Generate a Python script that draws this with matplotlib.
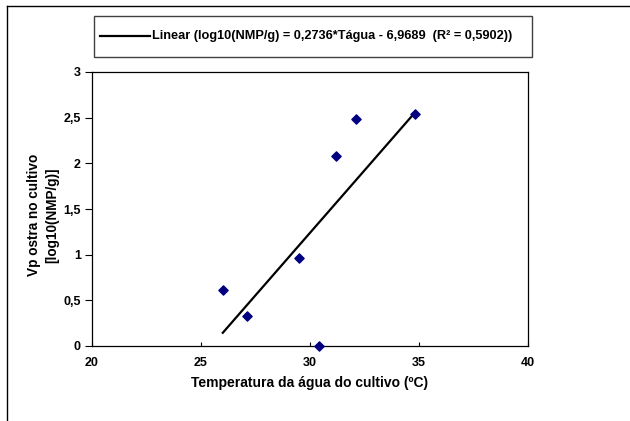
import matplotlib.pyplot as plt
import numpy as np

plt.rcParams["font.family"] = ["Liberation Sans", "DejaVu Sans"]
plt.rcParams["font.weight"] = "bold"

# data
temp_agua = [26.0, 27.1, 29.5, 30.4, 31.2, 32.1, 34.8]
vp_log = [0.61, 0.33, 0.96, 0.0, 2.08, 2.49, 2.54]
slope = 0.2736
intercept = -6.9689
x_ticks = [20, 25, 30, 35, 40]
y_ticks = [0, 0.5, 1, 1.5, 2, 2.5, 3]
y_labels = ["0", "0,5", "1", "1,5", "2", "2,5", "3"]
legend_text = "Linear (log10(NMP/g) = 0,2736*Tágua - 6,9689  (R² = 0,5902))"

W, H = 630, 421
fig = plt.figure(figsize=(W / 100, H / 100), dpi=100)

# outer chart border (only left and top are visible)
fig.add_artist(plt.Line2D([7 / W, 7 / W], [0, 1 - 6 / H], color="black", lw=1))
fig.add_artist(plt.Line2D([7 / W, 1], [1 - 6 / H, 1 - 6 / H], color="black", lw=1))

left, right, top, bottom = 92, 528, 72, 346
ax = fig.add_axes([left / W, 1 - bottom / H, (right - left) / W, (bottom - top) / H])

ax.scatter(temp_agua, vp_log, marker="D", s=22, color="#000080", zorder=3, clip_on=False)
xfit = np.array([min(temp_agua), max(temp_agua)])
ax.plot(xfit, slope * xfit + intercept, color="black", lw=1.6)

ax.set_xlim(20, 40)
ax.set_ylim(0, 3)
ax.set_xticks(x_ticks)
ax.set_xticklabels([str(t) for t in x_ticks])
ax.set_yticks(y_ticks)
ax.set_yticklabels(y_labels)
ax.tick_params(axis="x", direction="in", length=3, width=0.8, labelsize=9, pad=8)
ax.tick_params(axis="y", direction="out", length=5, width=0.8, labelsize=9, pad=3)
for sp in ax.spines.values():
    sp.set_linewidth(0.9)

fig.text(310 / W, 1 - 383 / H, "Temperatura da água do cultivo (ºC)", fontsize=10,
         fontweight="bold", ha="center", va="center")
fig.text(43 / W, 1 - 215 / H, "Vp ostra no cultivo\n[log10(NMP/g)]", fontsize=9.8,
         fontweight="bold", ha="center", va="center", rotation=90, linespacing=1.45)

# legend box drawn as a framed area above the plot
lx0, lx1, ly0, ly1 = 94, 532, 16, 57
fig.add_artist(plt.Rectangle((lx0 / W, 1 - ly1 / H), (lx1 - lx0) / W, (ly1 - ly0) / H,
                             fill=False, edgecolor="#404040", lw=1))
ymid = 1 - 36 / H
fig.add_artist(plt.Line2D([100 / W, 150 / W], [ymid, ymid], color="black", lw=1.6))
fig.text(152 / W, ymid, legend_text, fontsize=9.2, fontweight="bold", va="center", ha="left")

fig.savefig("out.png", dpi=100)
